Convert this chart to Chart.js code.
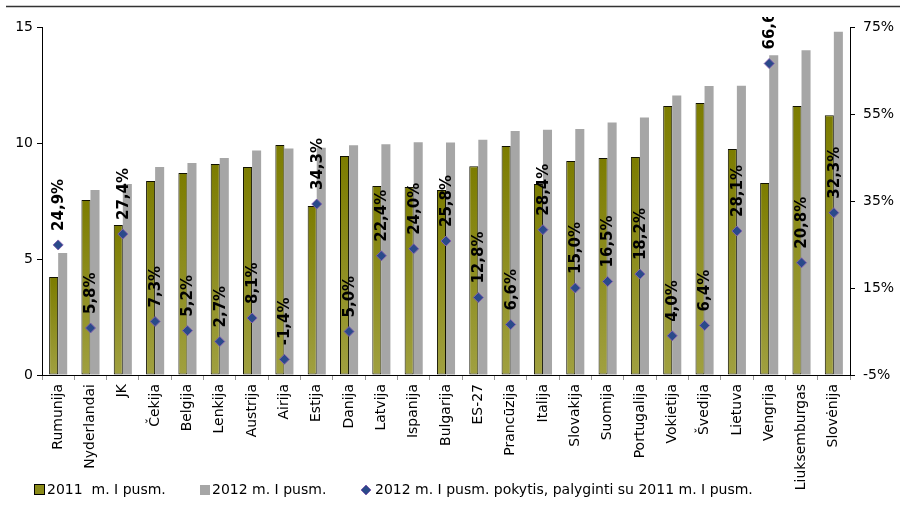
<!DOCTYPE html>
<html>
<head>
<meta charset="utf-8">
<script src="https://cdn.jsdelivr.net/npm/chart.js@4/dist/chart.umd.min.js"></script>
<style>
  html, body { margin: 0; padding: 0; background: #fff; }
  #wrap { width: 900px; height: 507px; }
</style>
</head>
<body>
<div id="wrap"><canvas id="c" width="900" height="507"></canvas></div>
<script>
// Household spending per country, first half 2011 vs 2012, with change in %
const categories = ['Rumunija','Nyderlandai','JK','Čekija','Belgija','Lenkija','Austrija','Airija','Estija','Danija','Latvija','Ispanija','Bulgarija','ES-27','Prancūzija','Italija','Slovakija','Suomija','Portugalija','Vokietija','Švedija','Lietuva','Vengrija','Liuksemburgas','Slovėnija'];
const values2011 = [4.22, 7.54, 6.47, 8.36, 8.71, 9.09, 8.97, 9.91, 7.28, 9.44, 8.15, 8.10, 7.97, 9.00, 9.87, 8.23, 9.22, 9.35, 9.40, 11.60, 11.72, 9.74, 8.28, 11.60, 11.20];
const values2012 = [5.26, 7.97, 8.23, 8.97, 9.14, 9.35, 9.68, 9.76, 9.80, 9.90, 9.95, 10.03, 10.02, 10.14, 10.52, 10.57, 10.60, 10.88, 11.10, 12.05, 12.46, 12.47, 13.78, 14.00, 14.80];
const changePct = [24.9, 5.8, 27.4, 7.3, 5.2, 2.7, 8.1, -1.4, 34.3, 5.0, 22.4, 24.0, 25.8, 12.8, 6.6, 28.4, 15.0, 16.5, 18.2, 4.0, 6.4, 28.1, 66.6, 20.8, 32.3];
const leftTicks = [0, 5, 10, 15];
const rightTicks = [-5, 15, 35, 55, 75];
const legendLabels = ['2011  m. I pusm.', '2012 m. I pusm.', '2012 m. I pusm. pokytis, palyginti su 2011 m. I pusm.'];

const FONT = '"DejaVu Sans", Verdana, sans-serif';
const fmtPct = v => v.toFixed(1).replace('.', ',') + '%';

function oliveFill(ctx) {
  const chart = ctx.chart;
  const y = chart.scales.y;
  if (!y || ctx.type !== 'data') return '#8a8a10';
  const top = y.getPixelForValue(ctx.raw);
  const base = y.getPixelForValue(0);
  if (!isFinite(top) || !isFinite(base) || top === base) return '#8a8a10';
  const g = chart.ctx.createLinearGradient(0, top, 0, base);
  g.addColorStop(0, '#7c7c00');
  g.addColorStop(1, '#a0a040');
  return g;
}

const frame = {
  id: 'frame',
  beforeDraw(chart) {
    const c = chart.ctx;
    c.save();
    c.strokeStyle = '#333';
    c.lineWidth = 1.5;
    c.beginPath();
    c.moveTo(6, 6.5);
    c.lineTo(900, 6.5);
    c.stroke();
    c.restore();
  },
  afterDatasetsDraw(chart) {
    const c = chart.ctx;
    const meta = chart.getDatasetMeta(2);
    c.save();
    c.beginPath();
    c.rect(0, 17, 900, 480);
    c.clip();
    c.font = 'bold 15px ' + FONT;
    c.fillStyle = '#000';
    c.textAlign = 'left';
    c.textBaseline = 'middle';
    meta.data.forEach((pt, i) => {
      c.save();
      c.translate(pt.x + 1, pt.y - 14);
      c.rotate(-Math.PI / 2);
      c.fillText(fmtPct(changePct[i]), 0, 0);
      c.restore();
    });
    c.restore();
  },
  afterDraw(chart) {
    const c = chart.ctx;
    const ly = 490;
    c.save();
    c.font = '14px ' + FONT;
    c.textBaseline = 'middle';
    c.textAlign = 'left';
    // olive box
    c.fillStyle = '#8a8a18';
    c.fillRect(34.5, ly - 5.5, 10, 10);
    c.strokeStyle = '#000';
    c.lineWidth = 1;
    c.strokeRect(34.5, ly - 5.5, 10, 10);
    c.fillStyle = '#000';
    c.fillText(legendLabels[0], 47, ly);
    // gray box
    c.fillStyle = '#a6a6a6';
    c.fillRect(200, ly - 5, 10, 10);
    c.fillStyle = '#000';
    c.fillText(legendLabels[1], 212, ly);
    // diamond
    c.fillStyle = '#2a4a8a';
    c.strokeStyle = '#7e5faf';
    c.beginPath();
    c.moveTo(366, ly - 5);
    c.lineTo(371, ly);
    c.lineTo(366, ly + 5);
    c.lineTo(361, ly);
    c.closePath();
    c.fill();
    c.stroke();
    c.fillStyle = '#000';
    c.fillText(legendLabels[2], 375, ly);
    c.restore();
  }
};

new Chart(document.getElementById('c'), {
  type: 'bar',
  data: {
    labels: categories,
    datasets: [
      {
        label: legendLabels[0],
        data: values2011,
        yAxisID: 'y',
        backgroundColor: oliveFill,
        borderColor: '#111100',
        borderWidth: 1,
        borderSkipped: false,
        categoryPercentage: 0.56,
        barPercentage: 1.0,
        order: 2
      },
      {
        label: legendLabels[1],
        data: values2012,
        yAxisID: 'y',
        backgroundColor: '#a6a6a6',
        borderWidth: 0,
        categoryPercentage: 0.56,
        barPercentage: 1.0,
        order: 2
      },
      {
        type: 'line',
        label: legendLabels[2],
        data: changePct,
        yAxisID: 'y2',
        showLine: false,
        pointStyle: 'rectRot',
        pointRadius: 5,
        pointHoverRadius: 5,
        pointBackgroundColor: '#2a4a8a',
        pointBorderColor: '#7e5faf',
        pointBorderWidth: 1,
        order: 1
      }
    ]
  },
  options: {
    responsive: false,
    animation: false,
    layout: { padding: { top: 27, left: 0, right: 0, bottom: 0 } },
    plugins: { legend: { display: false }, tooltip: { enabled: false } },
    scales: {
      x: {
        offset: true,
        grid: { display: true, drawOnChartArea: false, tickLength: 5, color: '#999', offset: true },
        border: { display: true, color: '#000', width: 1 },
        ticks: { color: '#000', font: { family: FONT, size: 14 }, minRotation: 90, maxRotation: 90, autoSkip: false, padding: 4 },
        afterFit(s) { s.height = 132; }
      },
      y: {
        position: 'left',
        min: 0, max: 15,
        afterBuildTicks(s) { s.ticks = leftTicks.map(v => ({ value: v })); },
        grid: { display: true, drawOnChartArea: false, tickLength: 5, color: '#000' },
        border: { display: true, color: '#000', width: 1 },
        ticks: { color: '#000', font: { family: FONT, size: 14 }, padding: 4 },
        afterFit(s) { s.width = 42; }
      },
      y2: {
        position: 'right',
        min: -5, max: 75,
        afterBuildTicks(s) { s.ticks = rightTicks.map(v => ({ value: v })); },
        grid: { display: true, drawOnChartArea: false, tickLength: 5, color: '#000' },
        border: { display: true, color: '#000', width: 1 },
        ticks: { color: '#000', font: { family: FONT, size: 14 }, padding: 8, callback: v => v + '%' },
        afterFit(s) { s.width = 50; }
      }
    }
  },
  plugins: [frame]
});
</script>
</body>
</html>
